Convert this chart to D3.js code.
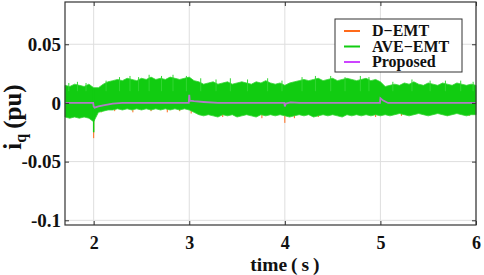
<!DOCTYPE html>
<html>
<head>
<meta charset="utf-8">
<script src="https://cdn.jsdelivr.net/npm/d3@7"></script>
<style>
  body { margin: 0; background: #fff; }
</style>
</head>
<body>
<script>
// sampling grid of the envelopes (s)
var tStart = 1.70, tStep = 0.05;

// AVE-EMT band, upper edge (pu), every 0.05 s
var aveUpper = [
  0.015, 0.014, 0.016, 0.015, 0.014, 0.016, 0.013,
  0.013, 0.016, 0.018, 0.019, 0.020, 0.019, 0.021, 0.020, 0.019, 0.021,
  0.020, 0.022, 0.020, 0.021, 0.020, 0.022, 0.021, 0.020, 0.021, 0.022,
  0.019, 0.018, 0.016, 0.017, 0.018, 0.016, 0.017, 0.018, 0.016, 0.017,
  0.018, 0.017, 0.016, 0.018, 0.017, 0.019, 0.017, 0.016, 0.017, 0.015,
  0.017, 0.018, 0.019, 0.020, 0.019, 0.020, 0.021, 0.019, 0.020, 0.021,
  0.019, 0.020, 0.021, 0.020, 0.019, 0.020, 0.021, 0.019, 0.020, 0.018,
  0.014, 0.015, 0.016, 0.015, 0.017, 0.016, 0.018, 0.016, 0.015, 0.017,
  0.016, 0.015, 0.017, 0.016, 0.015, 0.017, 0.016, 0.015, 0.016, 0.015
];

// AVE-EMT band, lower edge (pu)
var aveLower = [
  -0.012, -0.013, -0.012, -0.013, -0.012, -0.013, -0.016,
  -0.008, -0.007, -0.006, -0.006, -0.005, -0.006, -0.005, -0.006, -0.005, -0.006,
  -0.005, -0.006, -0.005, -0.006, -0.005, -0.006, -0.005, -0.006, -0.005, -0.006,
  -0.008, -0.010, -0.011, -0.010, -0.011, -0.012, -0.010, -0.011, -0.010, -0.012,
  -0.011, -0.010, -0.011, -0.012, -0.010, -0.011, -0.010, -0.011, -0.010, -0.011,
  -0.012, -0.011, -0.010, -0.011, -0.010, -0.012, -0.011, -0.010, -0.011, -0.010,
  -0.011, -0.012, -0.010, -0.011, -0.010, -0.011, -0.010, -0.011, -0.010, -0.011,
  -0.010, -0.011, -0.010, -0.009, -0.010, -0.011, -0.010, -0.009, -0.010, -0.011,
  -0.010, -0.009, -0.010, -0.011, -0.010, -0.009, -0.010, -0.011, -0.010, -0.010
];

// taller green hairs sticking out of the band [t, top]
var aveHairs = [
  [1.74, 0.017], [1.83, 0.018], [1.92, 0.017], [2.13, 0.019], [2.27, 0.022],
  [2.38, 0.023], [2.47, 0.022], [2.58, 0.024], [2.71, 0.023], [2.83, 0.024],
  [2.97, 0.023], [3.12, 0.021], [3.28, 0.020], [3.43, 0.021], [3.61, 0.020],
  [3.82, 0.021], [3.97, 0.019], [4.18, 0.022], [4.32, 0.023], [4.48, 0.023],
  [4.63, 0.022], [4.79, 0.023], [4.88, 0.022], [5.13, 0.018], [5.33, 0.020],
  [5.52, 0.019], [5.68, 0.019], [5.84, 0.019], [5.97, 0.018]
];

// D-EMT excursions showing under the green band [t, lowest value]
var demtPeaks = [
  [2.00, -0.030], [2.08, -0.008], [2.22, -0.007], [2.41, -0.008], [2.60, -0.007],
  [2.77, -0.008], [2.90, -0.007], [3.02, -0.009], [3.35, -0.012], [3.76, -0.013],
  [4.00, -0.017], [4.10, -0.013], [4.35, -0.012], [4.95, -0.012], [5.22, -0.011],
  [5.70, -0.011], [5.93, -0.011]
];

// AVE-EMT spike at the 2 s event [t, low, high]
var aveSpikes = [[2.00, -0.025, 0.012]];

// Proposed model [t, value]
var proposed = [
  [1.70, 0], [1.995, 0], [2.000, -0.003], [2.010, -0.004], [2.05, -0.003],
  [2.10, -0.002], [2.20, -0.0005], [2.30, 0], [2.995, 0], [3.000, 0.007],
  [3.005, 0.002], [3.05, 0.0015], [3.15, 0.0008], [3.30, 0], [3.995, 0],
  [4.000, -0.003], [4.010, -0.0005], [4.06, 0.0005], [4.15, 0], [4.995, 0],
  [5.000, 0.004], [5.03, 0.002], [5.08, 0], [6.00, 0]
];

var xTicks = [2, 3, 4, 5, 6];
var yTicks = [0.05, 0, -0.05, -0.1];
var legendNames = ["D\u2212EMT", "AVE\u2212EMT", "Proposed"];
var legendColours = ["#ff6a1a", "#11cc11", "#cc44ff"];

var serif = "'Liberation Serif', 'DejaVu Serif', serif";

var W = 484, H = 275;
var margin = {left: 65, right: 8, top: 2, bottom: 50};
var width = W - margin.left - margin.right;
var height = H - margin.top - margin.bottom;

var svg = d3.select("body").append("svg")
  .attr("width", W)
  .attr("height", H);

var g = svg.append("g")
  .attr("transform", "translate(" + margin.left + "," + margin.top + ")");

var x = d3.scaleLinear().domain([1.7, 6]).range([0, width]);
var y = d3.scaleLinear().domain([-0.104, 0.086]).range([height, 0]);

// grid
g.selectAll(".vgrid").data(xTicks).enter().append("line")
  .attr("x1", function(d) { return x(d); })
  .attr("x2", function(d) { return x(d); })
  .attr("y1", 0).attr("y2", height)
  .attr("stroke", "#dedede").attr("stroke-width", 1);
g.selectAll(".hgrid").data(yTicks).enter().append("line")
  .attr("y1", function(d) { return y(d); })
  .attr("y2", function(d) { return y(d); })
  .attr("x1", 0).attr("x2", width)
  .attr("stroke", "#dedede").attr("stroke-width", 1);

var band = aveUpper.map(function(u, i) {
  return {t: tStart + i * tStep, hi: u, lo: aveLower[i]};
});

// D-EMT underneath
g.selectAll(".demt").data(demtPeaks).enter().append("line")
  .attr("x1", function(d) { return x(d[0]); })
  .attr("x2", function(d) { return x(d[0]); })
  .attr("y1", y(0))
  .attr("y2", function(d) { return y(d[1]); })
  .attr("stroke", legendColours[0]).attr("stroke-width", 1);

var area = d3.area()
  .x(function(d) { return x(d.t); })
  .y0(function(d) { return y(d.lo); })
  .y1(function(d) { return y(d.hi); });

g.append("path")
  .datum(band)
  .attr("d", area)
  .attr("fill", legendColours[1])
  .attr("stroke", "#33d633")
  .attr("stroke-width", 0.8);

g.selectAll(".hair").data(aveHairs).enter().append("line")
  .attr("x1", function(d) { return x(d[0]); })
  .attr("x2", function(d) { return x(d[0]); })
  .attr("y1", y(0.01))
  .attr("y2", function(d) { return y(d[1]); })
  .attr("stroke", "#33d633").attr("stroke-width", 1);

g.selectAll(".avespike").data(aveSpikes).enter().append("line")
  .attr("x1", function(d) { return x(d[0]); })
  .attr("x2", function(d) { return x(d[0]); })
  .attr("y1", function(d) { return y(d[1]); })
  .attr("y2", function(d) { return y(d[2]); })
  .attr("stroke", legendColours[1]).attr("stroke-width", 1.5);

var line = d3.line()
  .x(function(d) { return x(d[0]); })
  .y(function(d) { return y(d[1]); });

g.append("path")
  .datum(proposed)
  .attr("d", line)
  .attr("fill", "none")
  .attr("stroke", "#b07cc6")
  .attr("stroke-width", 1.8);

// axes
var fmt = function(d) { return String(d); };

var xAxis = g.append("g")
  .attr("transform", "translate(0," + height + ")")
  .call(d3.axisBottom(x).tickValues(xTicks).tickFormat(fmt).tickSizeInner(-4).tickSizeOuter(0).tickPadding(11));
var yAxis = g.append("g")
  .call(d3.axisLeft(y).tickValues(yTicks).tickFormat(fmt).tickSizeInner(-4).tickSizeOuter(0).tickPadding(4));
g.append("g")
  .call(d3.axisTop(x).tickValues(xTicks).tickFormat("").tickSizeInner(-4).tickSizeOuter(0));
g.append("g")
  .attr("transform", "translate(" + width + ",0)")
  .call(d3.axisRight(y).tickValues(yTicks).tickFormat("").tickSizeInner(-4).tickSizeOuter(0));

g.selectAll(".domain").remove();
g.selectAll(".tick line").attr("stroke", "#333");
g.selectAll(".tick text")
  .attr("fill", "#111")
  .style("font-family", serif)
  .style("font-weight", "bold")
  .style("font-size", "19px");
xAxis.selectAll("text").style("font-size", "18px");

g.append("rect")
  .attr("width", width).attr("height", height)
  .attr("fill", "none").attr("stroke", "#333").attr("stroke-width", 1.2);

// axis titles
svg.append("text")
  .attr("x", margin.left + x(4)).attr("y", 271)
  .attr("text-anchor", "middle")
  .style("font-family", serif)
  .style("font-weight", "bold")
  .style("font-size", "19.5px")
  .attr("fill", "#111")
  .text("time\u2009(\u2009s\u2009)");

var yt = svg.append("text")
  .attr("transform", "translate(21," + 117 + ") rotate(-90)")
  .attr("text-anchor", "middle")
  .style("font-family", serif)
  .style("font-weight", "bold")
  .style("font-size", "25px")
  .attr("fill", "#111");
yt.append("tspan").text("i");
yt.append("tspan").attr("dy", 5).style("font-size", "16px").text("q");
yt.append("tspan").attr("dy", -5).text("\u2009(pu)");

// legend
var leg = svg.append("g").attr("transform", "translate(335,19)");
leg.append("rect")
  .attr("width", 127).attr("height", 53)
  .attr("fill", "#fff").attr("stroke", "#333").attr("stroke-width", 1);
legendNames.forEach(function(name, i) {
  var ly = 12 + i * 15.5;
  leg.append("line")
    .attr("x1", 9).attr("x2", 25).attr("y1", ly).attr("y2", ly)
    .attr("stroke", legendColours[i]).attr("stroke-width", 2);
  leg.append("text")
    .attr("x", 37).attr("y", ly + 5)
    .style("font-family", serif)
    .style("font-weight", "bold")
    .style("font-size", "16px")
    .attr("fill", "#111")
    .text(name);
});
</script>
</body>
</html>
